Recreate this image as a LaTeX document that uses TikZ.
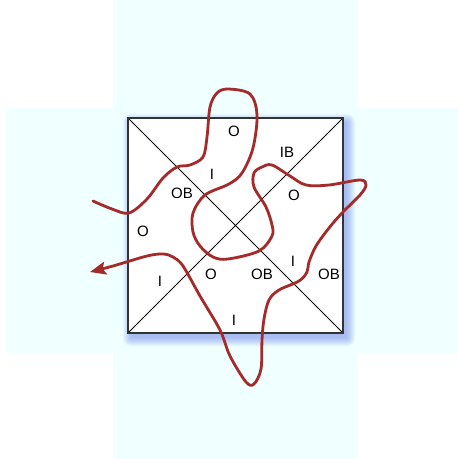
\documentclass[tikz,border=0pt]{standalone}
\usepackage{fontspec}
\setmainfont{Liberation Sans}
\usetikzlibrary{arrows.meta}
\definecolor{bgcyan}{RGB}{240,255,255}
\definecolor{curvered}{RGB}{165,42,42}
\definecolor{shadowblue}{RGB}{60,90,230}
\begin{document}
\begin{tikzpicture}[x=1pt,y=-1pt,
  lbl/.style={font=\fontsize{15}{17}\selectfont, inner sep=0pt, text=black},
  boxline/.style={draw=black!80, line width=1.8pt},
  diag/.style={draw=black, line width=0.9pt},
  meander/.style={draw=curvered, line width=2.8pt, line cap=round, line join=round}]
\useasboundingbox (0,0) rectangle (458,459);
% background cross
\fill[bgcyan] (113,0) rectangle (358,459);
\fill[bgcyan] (6,108) rectangle (458,353);
% shadow
\foreach \i in {0,1,...,8}{
  \fill[shadowblue, opacity=0.05, rounded corners=\i pt]
    (131-\i,122-\i) rectangle (347+\i,338+\i);
}
% square
\coordinate (tl) at (128,118);
\coordinate (tr) at (343,118);
\coordinate (br) at (343,333);
\coordinate (bl) at (128,333);
\fill[white] (tl) rectangle (br);
\draw[diag] (tl) -- (br);
\draw[diag] (bl) -- (tr);
\draw[boxline] (tl) -- (tr) -- (br) -- (bl) -- cycle;
% labels
\node[lbl] (l1) at (234,131) {O};
\node[lbl] (l2) at (287,152.5) {IB};
\node[lbl] (l3) at (212,174) {I};
\node[lbl] (l4) at (182,193) {OB};
\node[lbl] (l5) at (294,195) {O};
\node[lbl] (l6) at (143,231) {O};
\node[lbl] (l7) at (211,274) {O};
\node[lbl] (l8) at (262,274) {OB};
\node[lbl] (l9) at (293,261) {I};
\node[lbl] (l10) at (329,274) {OB};
\node[lbl] (l11) at (160,281) {I};
\node[lbl] (l12) at (234,320) {I};
% meander curve
\draw[meander, -{Stealth[length=16pt,width=13pt,inset=3pt]}] plot[smooth, tension=0.55] coordinates {
 (93,201) (112,209) (129,213) (147,199) (163,178) (177,167) (190,165) (203,157)
 (207,137) (210,107) (217,93) (228,89) (250,94) (257,115) (253,148) (242,173)
 (229,184) (205,195) (193,213) (193,232) (200,246) (213,257) (228,259) (259,251)
 (272,236) (272,225) (266,207) (254,187) (254,173) (262,167) (272,165) (290,176)
 (306,185) (329,185) (360,180) (366,185) (360,195) (342,213) (329,228) (316,246)
 (309,262) (307,272) (299,281) (279,290) (269,300) (264,319) (262,340) (261,369)
 (254,384) (246,382) (230,356) (220,330) (200,296) (183,266) (173,257) (163,254)
 (147,256) (113,266) (90,272)};
\end{tikzpicture}
\end{document}
